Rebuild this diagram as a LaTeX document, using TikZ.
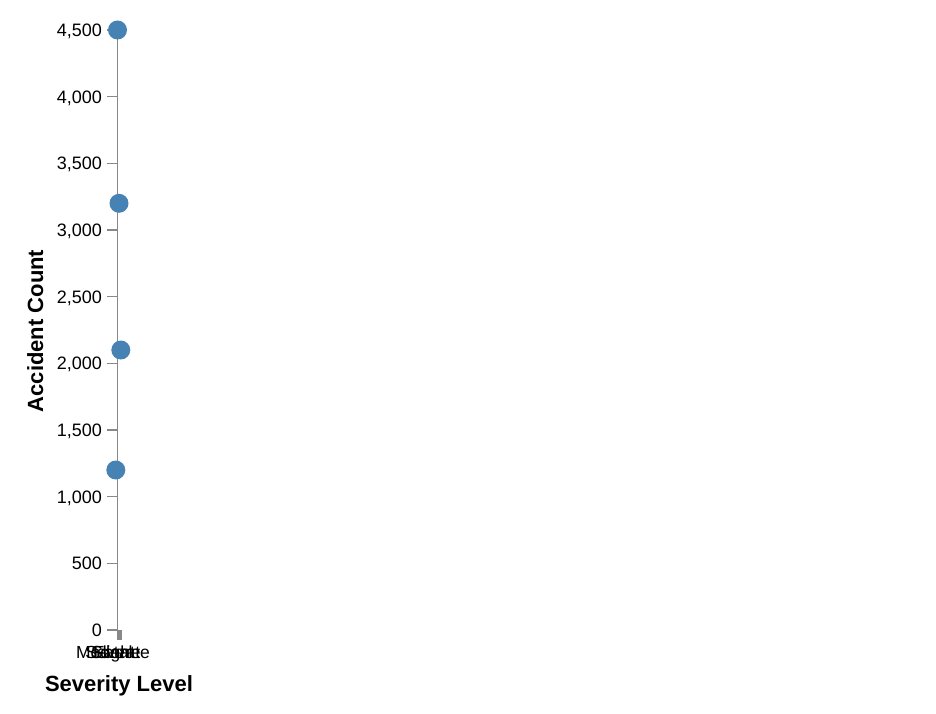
\documentclass[tikz,border=0pt]{standalone}
\usepackage{fontspec}
\setmainfont{Liberation Sans}
\definecolor{axisgray}{HTML}{888888}
\definecolor{steel}{HTML}{4682B4}
\begin{document}
\begin{tikzpicture}[x=1pt,y=-1pt,
  axisline/.style={draw=axisgray, line width=1.4pt},
  ticklab/.style={font=\fontsize{18}{20}\selectfont, anchor=base east, inner sep=0pt},
  xlab/.style={font=\fontsize{17.5}{20}\selectfont, anchor=base, inner sep=0pt},
  axtitle/.style={font=\fontsize{22}{24}\selectfont\bfseries, inner sep=0pt},
  dot/.style={circle, fill=steel, minimum size=19pt, inner sep=0pt}]
  \useasboundingbox (0,0) rectangle (936,714);
  % y axis
  \coordinate (ytop) at (117.5,30);
  \coordinate (ybot) at (117.5,630);
  \draw[axisline] (ytop) -- (ybot);
  \foreach \v/\l in {0/0,500/500,1000/{1,000},1500/{1,500},2000/{2,000},2500/{2,500},3000/{3,000},3500/{3,500},4000/{4,000},4500/{4,500}} {
    \pgfmathsetmacro{\yy}{630-\v*2/15}
    \coordinate (tk\v) at (117.5,\yy);
    \coordinate (tl\v) at (107,\yy);
    \draw[axisline] (tl\v) -- (tk\v);
    \node[ticklab] (lab\v) at (102,\yy+6.5) {\l};
  }
  % x axis (collapsed band)
  \fill[axisgray] (116.5,630) rectangle (121.5,639.5);
  \node[xlab] (xm) at (113,658.5) {Moderate};
  \node[xlab] (xs) at (113,658.5) {Severe};
  \node[xlab] (xl) at (113,658.5) {Slight};
  \node[xlab] (xf) at (113,658.5) {Fatal};
  % titles
  \node[axtitle, anchor=base] (xtitle) at (119,691) {Severity Level};
  \node[axtitle, anchor=base, rotate=90] (ytitle) at (43,331) {Accident Count};
  % points
  \node[dot] (p4500) at (117.5,30) {};
  \node[dot] (p3200) at (119,203.3) {};
  \node[dot] (p2100) at (120.8,350) {};
  \node[dot] (p1200) at (115.8,470) {};
\end{tikzpicture}
\end{document}
